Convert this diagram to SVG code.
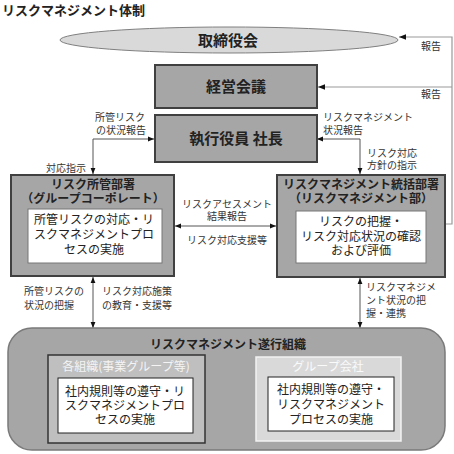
<svg xmlns="http://www.w3.org/2000/svg" width="454" height="454" viewBox="0 0 454 454">
<defs>
<style>
text{font-family:"Noto Sans CJK JP","Noto Sans CJK SC",sans-serif;fill:#222}
.b{font-weight:bold}
.t15{font-size:15px;font-weight:bold;text-anchor:middle}
.t12b{font-size:12px;font-weight:bold;text-anchor:middle}
.t12{font-size:12px;text-anchor:middle}
.s{font-size:10px;fill:#333}
.sm{font-size:10px;fill:#333;text-anchor:middle}
.box{fill:#a6a6a6;stroke:#404040;stroke-width:2}
.white{fill:#fff;stroke:#777;stroke-width:1}
.conn{fill:none;stroke:#555;stroke-width:1}
.conn2{fill:none;stroke:#999;stroke-width:1.2}
</style>
<marker id="ah" viewBox="0 0 10 10" refX="10" refY="5" markerWidth="6" markerHeight="6" orient="auto-start-reverse"><path d="M0,1 L10,5 L0,9 Z" fill="#111"/></marker>
</defs>
<rect width="454" height="454" fill="#fff"/>
<text x="2" y="15" class="b" font-size="13">リスクマネジメント体制</text>

<g id="connectors">
<path class="conn2" d="M445,224 H452 V37 H399" marker-end="url(#ah)"/>
<path class="conn2" d="M452,87 H318" marker-end="url(#ah)"/>
<path class="conn" d="M154,139 H93 V174" marker-start="url(#ah)" marker-end="url(#ah)"/>
<path class="conn" d="M317,139 H360 V174" marker-start="url(#ah)" marker-end="url(#ah)"/>
<path class="conn" d="M175,226 H276" marker-start="url(#ah)" marker-end="url(#ah)"/>
<path class="conn" d="M93,277 V328" marker-start="url(#ah)" marker-end="url(#ah)"/>
<path class="conn" d="M360,278 V328" marker-start="url(#ah)" marker-end="url(#ah)"/>
<text x="441" y="50" class="s" text-anchor="end">報告</text>
<text x="441" y="98" class="s" text-anchor="end">報告</text>
<text x="120" y="121" class="sm">所管リスク</text>
<text x="121" y="134" class="sm">の状況報告</text>
<text x="46" y="172" class="s">対応指示</text>
<text x="323" y="121" class="s">リスクマネジメント</text>
<text x="323" y="134" class="s">状況報告</text>
<text x="367" y="157" class="s">リスク対応</text>
<text x="367" y="169" class="s">方針の指示</text>
<text x="227" y="208" class="sm">リスクアセスメント</text>
<text x="227" y="220" class="sm">結果報告</text>
<text x="227" y="244" class="sm">リスク対応支援等</text>
<text x="24" y="295" class="s">所管リスクの</text>
<text x="24" y="309" class="s">状況の把握</text>
<text x="102" y="295" class="s">リスク対応施策</text>
<text x="102" y="309" class="s">の教育・支援等</text>
<text x="366" y="291" class="s">リスクマネジメ</text>
<text x="366" y="304" class="s">ント状況の把</text>
<text x="366" y="317" class="s">握・連携</text>
</g>

<g id="board">
<ellipse cx="229" cy="40" rx="169" ry="13" fill="#d9d9d9" stroke="#808080" stroke-width="1"/>
<text x="228" y="46" class="t15">取締役会</text>
</g>

<g id="management-meeting">
<rect x="155" y="65" width="162" height="43" class="box" stroke-width="1.5"/>
<text x="236" y="92" class="t15">経営会議</text>
</g>

<g id="executive">
<rect x="155" y="115" width="162" height="47" class="box" stroke-width="1.5"/>
<text x="236" y="144" class="t15">執行役員 社長</text>
</g>

<g id="risk-owner">
<rect x="11" y="175" width="163" height="101" class="box"/>
<text x="93" y="189" class="t12b">リスク所管部署</text>
<text x="93" y="203" class="t12b">（グループコーポレート）</text>
<rect x="28" y="209" width="134" height="54" class="white"/>
<text x="94" y="224" class="t12">所管リスクの対応・リ</text>
<text x="94" y="239" class="t12">スクマネジメントプロ</text>
<text x="94" y="254" class="t12">セスの実施</text>
</g>

<g id="risk-management-dept">
<rect x="277" y="175" width="168" height="102" class="box"/>
<text x="361" y="189" class="t12b">リスクマネジメント統括部署</text>
<text x="361" y="203" class="t12b">（リスクマネジメント部）</text>
<rect x="296" y="211" width="130" height="52" class="white"/>
<text x="361" y="226" class="t12">リスクの把握・</text>
<text x="361" y="241" class="t12">リスク対応状況の確認</text>
<text x="361" y="255" class="t12">および評価</text>
</g>

<g id="execution-org">
<rect x="8" y="328" width="437" height="122" rx="24" fill="#a6a6a6" stroke="#7a7a7a" stroke-width="1.5"/>
<text x="228" y="349" class="t12b">リスクマネジメント遂行組織</text>
</g>

<g id="business-groups">
<rect x="48" y="355" width="157" height="88" fill="#bfbfbf" stroke="#333" stroke-width="1.5"/>
<text x="126" y="371" class="t12b" style="fill:#f4f4f4;font-weight:normal">各組織(事業グループ等)</text>
<rect x="58" y="378" width="135" height="55" fill="#fff" stroke="#222" stroke-width="1"/>
<text x="125" y="396" class="t12">社内規則等の遵守・リ</text>
<text x="125" y="410" class="t12">スクマネジメントプロ</text>
<text x="125" y="424" class="t12">セスの実施</text>
</g>

<g id="group-companies">
<rect x="256" y="357" width="145" height="84" fill="#d9d9d9" stroke="#f2f2f2" stroke-width="1.5"/>
<text x="328" y="371" class="t12b" style="fill:#fafafa;font-weight:normal">グループ会社</text>
<rect x="268" y="377" width="126" height="54" fill="#fff" stroke="#222" stroke-width="1"/>
<text x="331" y="394" class="t12">社内規則等の遵守・</text>
<text x="331" y="409" class="t12">リスクマネジメント</text>
<text x="331" y="424" class="t12">プロセスの実施</text>
</g>
</svg>
